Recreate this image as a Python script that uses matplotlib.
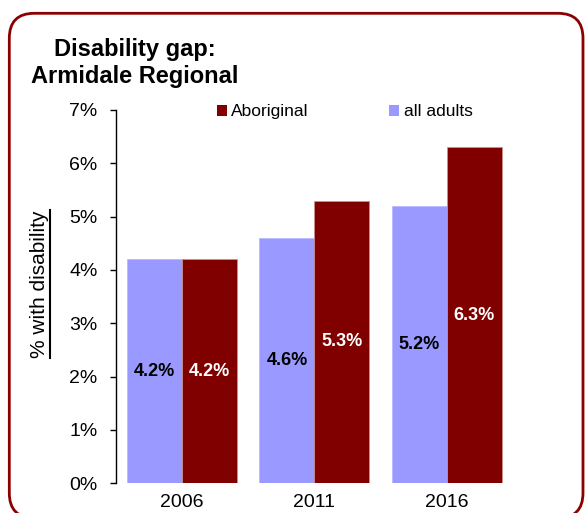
import matplotlib
matplotlib.use("Agg")
import matplotlib.pyplot as plt
import matplotlib.transforms as mtransforms
from matplotlib.patches import FancyBboxPatch, Patch
from matplotlib.lines import Line2D
import numpy as np

# data
years = ["2006", "2011", "2016"]
all_adults = [4.2, 4.6, 5.2]
aboriginal = [4.2, 5.3, 6.3]
yticks = [0, 1, 2, 3, 4, 5, 6, 7]
ytick_labels = ["0%", "1%", "2%", "3%", "4%", "5%", "6%", "7%"]

LIGHT = "#9999FF"
DARK = "#800000"
W, H = 586, 513

plt.rcParams["font.family"] = ["Liberation Sans", "DejaVu Sans"]

fig = plt.figure(figsize=(W / 100, H / 100), dpi=100)
ax = fig.add_axes([116 / W, 1 - 483.3 / H, 396.8 / W, 373.3 / H])

x = np.arange(len(years))
bw = 0.416
b1 = ax.bar(x - bw / 2, all_adults, bw, color=LIGHT, edgecolor="#b8b8ff", linewidth=0.6)
b2 = ax.bar(x + bw / 2, aboriginal, bw, color=DARK, edgecolor="#c89090", linewidth=0.6)

ax.bar_label(b1, labels=[f"{v:.1f}%" for v in all_adults], label_type="center",
             fontsize=13, fontweight="bold", color="black")
ax.bar_label(b2, labels=[f"{v:.1f}%" for v in aboriginal], label_type="center",
             fontsize=13, fontweight="bold", color="white")

ax.set_xlim(-0.5, 2.5)
ax.set_ylim(0, 7)
ax.set_yticks(yticks)
ax.set_yticklabels(ytick_labels, fontsize=14)
ax.set_xticks(x)
ax.set_xticklabels(years, fontsize=14)
ax.tick_params(axis="x", length=0, pad=8)
ax.tick_params(axis="y", length=4.3, width=1, pad=9)
ax.yaxis.get_major_ticks()[0].tick1line.set_color("#999999")

for s in ["top", "right", "bottom"]:
    ax.spines[s].set_visible(False)
ax.spines["left"].set_linewidth(1)

# legend, Aboriginal first
handles = [Patch(facecolor=DARK, edgecolor="none"), Patch(facecolor=LIGHT, edgecolor="none")]
fig.legend(handles, ["Aboriginal", "all adults"], ncol=2, frameon=False,
           loc="center left", bbox_to_anchor=(216.7 / W, 1 - 111.7 / H),
           borderpad=0, borderaxespad=0, handlelength=0.6, handleheight=0.6,
           handletextpad=0.25, columnspacing=4.6, fontsize=12.5)

# title
fig.text(135 / W, 1 - 56 / H, "Disability gap:", ha="center", va="baseline",
         fontsize=17, fontweight="bold")
fig.text(135 / W, 1 - 82.7 / H, "Armidale Regional", ha="center", va="baseline",
         fontsize=17, fontweight="bold")

# y label with underline
yl = fig.text(40 / W, 1 - 284 / H, "% with disability", rotation=90,
              ha="center", va="center", fontsize=15)
fig.canvas.draw()
bb = yl.get_window_extent().transformed(fig.transFigure.inverted())
fig.add_artist(Line2D([bb.x1, bb.x1], [bb.y0, bb.y1], transform=fig.transFigure,
                      color="black", linewidth=1.5))

# rounded border, in pixel units
pix = mtransforms.Affine2D().scale(1 / W, 1 / H) + fig.transFigure
border = FancyBboxPatch((9.3, -5), 583 - 9.3, H - 13.3 + 5,
                        boxstyle="round,pad=0,rounding_size=25",
                        transform=pix, facecolor="none", edgecolor="#8B0000",
                        linewidth=2, clip_on=False)
fig.add_artist(border)

fig.savefig("out.png", dpi=100)
